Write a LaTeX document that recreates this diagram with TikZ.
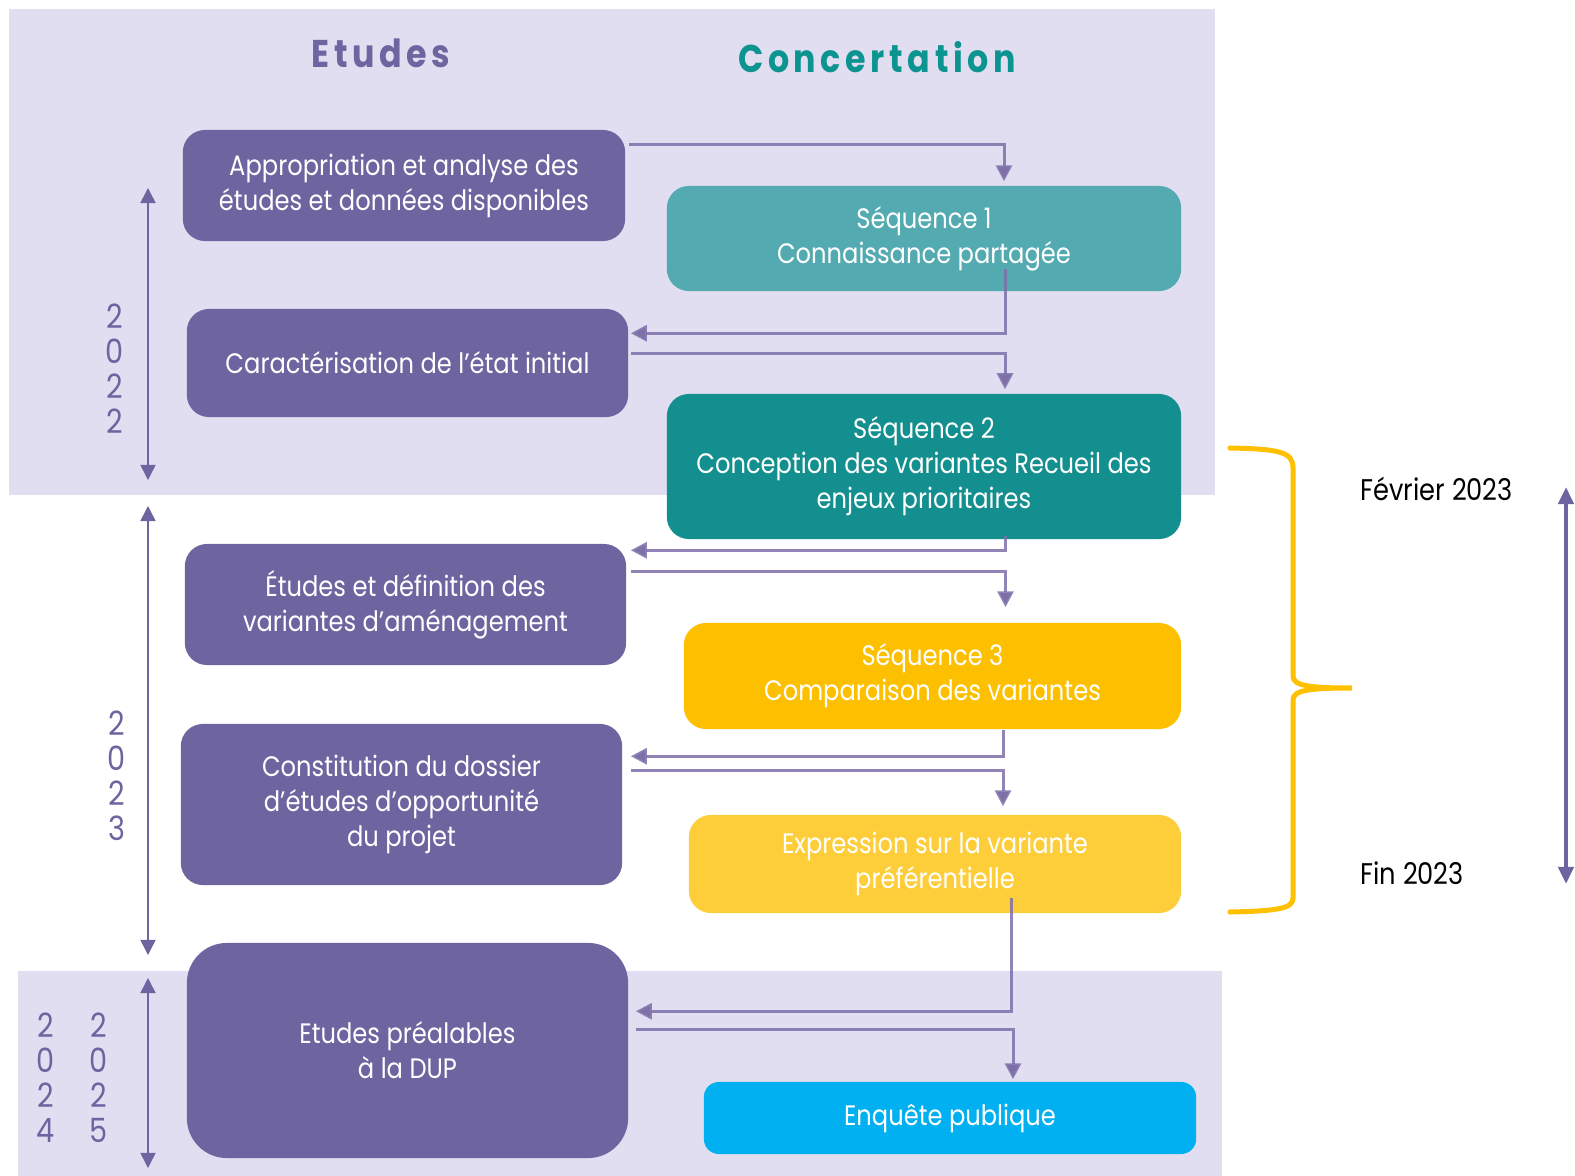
\documentclass[tikz,border=0pt]{standalone}
\usepackage{fontspec}
\setmainfont[FakeStretch=0.86]{Poppins}
\usepackage{tikz}
\usetikzlibrary{arrows.meta,calc}
\definecolor{etuviolet}{HTML}{6D64A0}
\definecolor{fondlav}{HTML}{E0DEF0}
\definecolor{fleche}{HTML}{7D70A9}
\definecolor{seqa}{HTML}{54AAB1}
\definecolor{seqb}{HTML}{148F8F}
\definecolor{seqc}{HTML}{FDC000}
\definecolor{seqd}{HTML}{FECE3A}
\definecolor{seqe}{HTML}{00B0F0}
\definecolor{concteal}{HTML}{0B9490}
\definecolor{accolade}{HTML}{FFC000}

\begin{document}
\begin{tikzpicture}[x=0.01cm,y=-0.01cm,
  box/.style={rounded corners=0.22cm,align=center,text=white,font=\fontsize{8}{9.96}\selectfont,inner sep=0pt},
  etape/.style={box,fill=etuviolet},
  flow/.style={draw=fleche,line width=0.03cm,draw opacity=0.85,-{Triangle[length=0.16cm,width=0.16cm]}},
  span/.style={etuviolet,line width=0.015cm,{Triangle[length=0.15cm,width=0.15cm]}-{Triangle[length=0.15cm,width=0.15cm]}},
  annee/.style={etuviolet,align=center,font=\fontsize{9.5}{9.96}\selectfont,inner sep=0pt}]
\useasboundingbox (0,0) rectangle (1575,1176);
\fill[fondlav] (9,9) rectangle (1215,495);
\fill[fondlav] (18,971) rectangle (1222,1176);
%\draw[help lines,step=100] (0,0) grid (1575,1176);
\node[etuviolet,font=\fontsize{11}{13}\selectfont\bfseries\addfontfeatures{LetterSpace=12}] (etudes) at (381,53) {Etudes};
\node[concteal,font=\fontsize{11}{13}\selectfont\bfseries\addfontfeatures{LetterSpace=12}] (concert) at (877,57) {Concertation};

% colonne Etudes
\node[etape,minimum width=4.42cm,minimum height=1.11cm] (app) at (404,185.5) {Appropriation et analyse des\\études et données disponibles};
\node[etape,minimum width=4.41cm,minimum height=1.08cm] (car) at (407.5,363) {Caractérisation de l’état initial};
\node[etape,minimum width=4.41cm,minimum height=1.21cm] (etu) at (405.5,604.5) {Études et définition des\\variantes d’aménagement};
\node[etape,minimum width=4.41cm,minimum height=1.61cm] (con) at (401.5,804.5) {Constitution du dossier\\d’études d’opportunité\\du projet};
\node[etape,minimum width=4.41cm,minimum height=2.15cm,rounded corners=0.4cm] (dup) at (407.5,1050.5) {Etudes préalables\\à la DUP};

% colonne Concertation
\node[box,fill=seqa,minimum width=5.14cm,minimum height=1.05cm] (s1) at (924,238.5) {Séquence 1\\Connaissance partagée};
\node[box,fill=seqb,minimum width=5.14cm,minimum height=1.45cm] (s2) at (924,466.5) {Séquence 2\\Conception des variantes Recueil des\\enjeux prioritaires};
\node[box,fill=seqc,minimum width=4.97cm,minimum height=1.06cm] (s3) at (932.5,676) {Séquence 3\\Comparaison des variantes};
\node[box,fill=seqd,minimum width=4.92cm,minimum height=0.98cm] (s4) at (935,864) {Expression sur la variante\\préférentielle};
\node[box,fill=seqe,minimum width=4.92cm,minimum height=0.72cm,rounded corners=0.15cm] (s5) at (950,1118) {Enquête publique};

\draw[flow] ($(app.north east)+(3,15)$) -| ($(s1.north)+(80,-4)$);
\draw[flow] ($(s1.south)+(81,-23)$) |- ($(car.north east)+(2,25)$);
\draw[flow] ($(car.north east)+(2,45)$) -| ($(s2.north)+(81,-4)$);
\draw[flow] ($(s2.south)+(81,-4)$) |- ($(etu.north east)+(4,7)$);
\draw[flow] ($(etu.north east)+(4,28)$) -| ($(s3.north)+(73,-15)$);
\draw[flow] ($(s3.south)+(71,0)$) |- ($(con.north east)+(8,33)$);
\draw[flow] ($(con.north east)+(8,47)$) -| ($(s4.north)+(68,-8)$);
\draw[flow] ($(s4.south)+(76,-16)$) |- ($(dup.north east)+(7,69)$);
\draw[flow] ($(dup.north east)+(7,87)$) -| ($(s5.north)+(63,-2)$);

% annees
\draw[span] (148,188) -- (148,480);
\draw[span] (148,506) -- (148,955);
\draw[span] (148,978) -- (148,1168);
\node[annee] (a22) at (115,368.5) {2\\0\\2\\2};
\node[annee] (a23) at (117,776) {2\\0\\2\\3};
\node[annee] (a24) at (46,1078) {2\\0\\2\\4};
\node[annee] (a25) at (99,1078) {2\\0\\2\\5};

% accolade et periode
\draw[accolade,line width=0.05cm,line cap=round] (1230,448) .. controls (1280,449) and (1293,452) .. (1293,468) -- (1293,676)
  .. controls (1293,686) and (1310,688) .. (1352,688) .. controls (1310,688) and (1293,690) .. (1293,700) -- (1293,898)
  .. controls (1293,908) and (1280,911) .. (1230,912);
\node[anchor=west,font=\fontsize{8.5}{10}\selectfont] (fev) at (1348,489) {Février 2023};
\node[anchor=west,font=\fontsize{8.5}{10}\selectfont] (fin) at (1348,873) {Fin 2023};
\draw[etuviolet,line width=0.045cm,{Triangle[length=0.17cm,width=0.15cm]}-{Triangle[length=0.17cm,width=0.15cm]}] (1566,487) -- (1566,884);
\end{tikzpicture}
\end{document}
